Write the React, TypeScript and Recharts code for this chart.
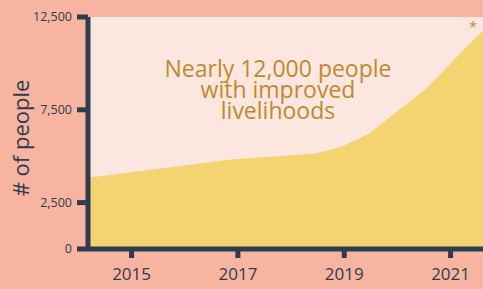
import React from 'react';
import { AreaChart, Area, XAxis, YAxis, CartesianGrid } from 'recharts';

const years = [2014.18, 2016.87, 2018.46, 2018.96, 2019.47, 2020.55, 2021.61];
const people = [3840, 4820, 5140, 5520, 6220, 8660, 11800];
const yearTicks = [2015, 2017, 2019, 2021];
const peopleTicks = [0, 2500, 7500, 12500];
const titleLines = ['Nearly 12,000 people', 'with improved', 'livelihoods'];

const NAVY = '#2E3C4E';
const SALMON = '#F7B4A1';
const PINK = '#FBE6E0';
const YELLOW = '#F3D470';
const GOLD = '#BF8A2F';
const FONT = '"Open Sans", sans-serif';

const data = years.map((y, i) => ({ year: y, people: people[i] }));

const YLabel = (props: any) => {
  const vb = props.viewBox || { x: 0, y: 17, width: 88, height: 232 };
  const x = vb.x + 29;
  const y = vb.y + vb.height / 2 + 5;
  return (
    <text
      x={x}
      y={y}
      transform={`rotate(-90, ${x}, ${y})`}
      textAnchor="middle"
      fill={NAVY}
      fontSize={22}
      fontWeight={500}
      fontFamily={FONT}
    >
      # of people
    </text>
  );
};

export default function App() {
  return (
    <div style={{ position: 'absolute', left: 0, top: 0, width: 483, height: 289, background: SALMON }}>
      <AreaChart width={483} height={289} data={data} margin={{ top: 17, right: 0, left: 0, bottom: 0 }}>
        <CartesianGrid horizontal={false} vertical={false} fill={PINK} stroke="none" />
        <XAxis
          dataKey="year"
          type="number"
          domain={[2014.18, 2021.61]}
          allowDataOverflow
          ticks={yearTicks}
          height={40}
          axisLine={{ stroke: NAVY, strokeWidth: 5 }}
          tickLine={{ stroke: NAVY, strokeWidth: 5 }}
          tickSize={9}
          tickMargin={10}
          tick={{ fill: NAVY, fontSize: 17, fontWeight: 500, fontFamily: FONT }}
        />
        <YAxis
          type="number"
          domain={[0, 12500]}
          ticks={peopleTicks}
          width={88}
          interval={0}
          tickFormatter={(v: number) => v.toLocaleString('en-US')}
          axisLine={{ stroke: NAVY, strokeWidth: 5 }}
          tickLine={{ stroke: NAVY, strokeWidth: 5 }}
          tickSize={11}
          tickMargin={5}
          tick={{ fill: NAVY, fontSize: 12.5, fontFamily: FONT }}
          label={<YLabel />}
        />
        <Area
          type="linear"
          dataKey="people"
          fill={YELLOW}
          fillOpacity={1}
          stroke="none"
          isAnimationActive={false}
        />
      </AreaChart>
      <svg
        width={483}
        height={289}
        style={{ position: 'absolute', left: 0, top: 0, pointerEvents: 'none' }}
      >
        {titleLines.map((t, i) => (
          <text
            key={t}
            x={278}
            y={77 + i * 21}
            textAnchor="middle"
            fill={GOLD}
            fontSize={23}
            fontWeight={500}
            fontFamily={FONT}
          >
            {t}
          </text>
        ))}
        <text x={473} y={32} textAnchor="middle" fill="#C8804A" fontSize={14} fontFamily={FONT}>
          *
        </text>
      </svg>
    </div>
  );
}
